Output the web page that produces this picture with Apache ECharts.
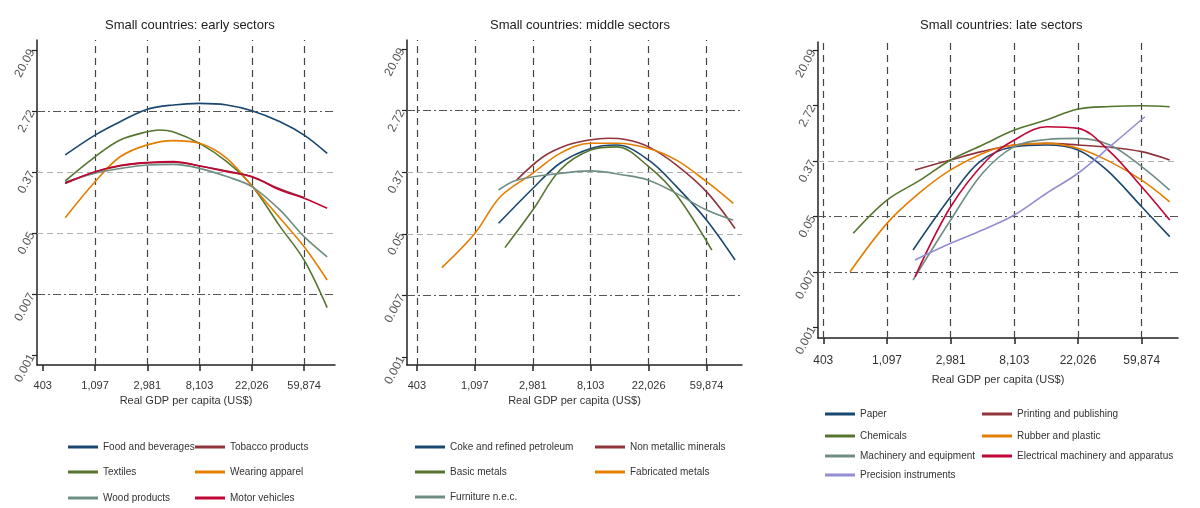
<!DOCTYPE html>
<html>
<head>
<meta charset="utf-8">
<title>Small countries: sector shares</title>
<script src="https://cdn.jsdelivr.net/npm/echarts@6.0.0/dist/echarts.min.js"></script>
<style>
  html, body { margin: 0; padding: 0; background: #fff; }
  #chart { width: 1200px; height: 508px; }
</style>
</head>
<body>
<div id="chart"></div>
<script>
// x = ln(real GDP per capita), y = ln(sector share)
const xTickVals = [6, 7, 8, 9, 10, 11];
const xTickLabels = ['403', '1,097', '2,981', '8,103', '22,026', '59,874'];
const yTickVals = [-7, -5, -3, -1, 1, 3];
const yTickLabels = ['0.001', '0.007', '0.05', '0.37', '2.72', '20.09'];

// early sectors
const foodBev = [[6.43,-0.44],[7.0,0.21],[7.48,0.65],[8.0,1.06],[8.5,1.2],[9.0,1.25],[9.52,1.2],[10.0,1.01],[10.54,0.65],[11.0,0.21],[11.44,-0.39]];
const tobacco = [[6.43,-1.38],[7.0,-1.0],[7.5,-0.79],[8.0,-0.7],[8.5,-0.68],[9.0,-0.8],[9.5,-0.96],[10.0,-1.16],[10.54,-1.56],[11.0,-1.84]];
const textiles = [[6.43,-1.29],[7.0,-0.5],[7.48,0.05],[8.0,0.32],[8.24,0.38],[8.49,0.32],[9.0,-0.06],[9.52,-0.66],[10.0,-1.45],[10.54,-2.79],[11.0,-3.89],[11.44,-5.45]];
const apparel = [[6.43,-2.5],[7.0,-1.32],[7.48,-0.5],[8.0,-0.11],[8.49,0.03],[9.0,-0.06],[9.52,-0.55],[10.0,-1.45],[10.54,-2.52],[11.0,-3.45],[11.44,-4.54]];
const woodProd = [[6.43,-1.33],[7.0,-1.04],[7.5,-0.88],[8.0,-0.77],[8.5,-0.75],[9.0,-0.88],[9.52,-1.15],[10.0,-1.48],[10.54,-2.25],[11.0,-3.12],[11.44,-3.78]];
const motorVeh = [[6.43,-1.36],[7.0,-0.99],[7.5,-0.78],[8.0,-0.69],[8.5,-0.66],[9.0,-0.8],[9.52,-0.99],[10.0,-1.15],[10.54,-1.59],[11.0,-1.86],[11.44,-2.19]];

// middle sectors
const cokePetrol = [[7.41,-2.66],[8.0,-1.53],[8.47,-0.71],[9.0,-0.23],[9.45,-0.12],[10.0,-0.61],[10.48,-1.47],[11.0,-2.56],[11.49,-3.85]];
const nonMetal = [[7.72,-1.26],[8.18,-0.5],[8.6,-0.12],[9.0,0.05],[9.3,0.1],[9.6,0.06],[10.0,-0.18],[10.48,-0.77],[11.0,-1.64],[11.49,-2.83]];
const basicMetals = [[7.52,-3.45],[8.0,-2.23],[8.47,-0.93],[9.0,-0.28],[9.45,-0.18],[10.0,-0.82],[10.48,-1.74],[11.09,-3.53]];
const fabMetals = [[6.43,-4.1],[7.0,-2.99],[7.44,-1.8],[8.0,-1.04],[8.47,-0.39],[9.0,-0.06],[9.45,-0.06],[10.0,-0.23],[10.48,-0.61],[11.0,-1.31],[11.46,-2.01]];
const furniture = [[7.41,-1.58],[7.72,-1.26],[8.47,-1.04],[9.0,-0.96],[9.56,-1.09],[10.0,-1.26],[10.48,-1.69],[11.0,-2.23],[11.46,-2.56]];

// late sectors
const paper = [[7.41,-4.21],[8.0,-2.29],[8.46,-1.02],[9.0,-0.48],[9.51,-0.42],[10.0,-0.6],[10.45,-1.32],[11.0,-2.65],[11.44,-3.73]];
const printing = [[7.44,-1.32],[8.0,-0.96],[8.5,-0.65],[9.0,-0.42],[9.51,-0.36],[10.0,-0.42],[10.5,-0.5],[11.0,-0.66],[11.44,-0.96]];
const chemicals = [[6.47,-3.61],[7.0,-2.41],[7.52,-1.69],[8.0,-0.96],[8.5,-0.42],[9.0,0.12],[9.5,0.48],[10.0,0.88],[10.5,0.97],[11.0,1.0],[11.44,0.96]];
const rubber = [[6.42,-5.0],[7.0,-3.25],[7.5,-2.17],[8.0,-1.32],[8.57,-0.66],[9.0,-0.42],[9.51,-0.36],[10.0,-0.54],[10.5,-1.02],[11.0,-1.69],[11.44,-2.47]];
const machinery = [[7.41,-5.3],[8.0,-3.13],[8.5,-1.44],[9.0,-0.48],[9.51,-0.22],[10.0,-0.18],[10.5,-0.42],[11.0,-1.2],[11.44,-2.05]];
const electrical = [[7.44,-5.18],[8.0,-2.65],[8.57,-0.96],[9.0,-0.24],[9.51,0.24],[10.0,0.18],[10.5,-0.66],[11.0,-1.93],[11.44,-3.13]];
const precision = [[7.44,-4.57],[8.0,-3.97],[8.5,-3.49],[9.0,-2.95],[9.5,-2.17],[10.0,-1.44],[10.5,-0.48],[11.05,0.6]];

const FONT = "'Liberation Sans Narrow', 'Liberation Sans', Arial, sans-serif";
// stata s2color palette
const navy = '#1a476f', maroon = '#90353b', green = '#55752f', orange = '#e37e00',
      teal = '#6e8e84', cranberry = '#c10534', lavender = '#938dd2';

const panels = [
    {
        title: 'Small countries: early sectors', titleLeft: 100,
        grid: { left: 37, top: 40, width: 298, height: 325 },
        x: [5.89, 11.59], y: [-7.33, 3.33], nameGap: 28, labelMargin: 15, labelSize: 11,
        vGrid: [7, 8, 9, 10, 11],
        hGrid: [[1, 'dark'], [-1, 'light'], [-3, 'light'], [-5, 'dark']],
        series: [
            ['Food and beverages', foodBev, navy],
            ['Tobacco products', tobacco, maroon],
            ['Textiles', textiles, green],
            ['Wearing apparel', apparel, orange],
            ['Wood products', woodProd, teal],
            ['Motor vehicles', motorVeh, cranberry]
        ],
        legendCols: [68, 195], legendRows: [448, 473, 499]
    },
    {
        title: 'Small countries: middle sectors', titleLeft: 485,
        grid: { left: 407, top: 40, width: 335, height: 325 },
        x: [5.83, 11.61], y: [-7.26, 3.29], nameGap: 28, labelMargin: 15, labelSize: 11,
        vGrid: [6, 7, 8, 9, 10, 11],
        hGrid: [[1, 'dark'], [-1, 'light'], [-3, 'light'], [-5, 'dark']],
        series: [
            ['Coke and refined petroleum', cokePetrol, navy],
            ['Non metallic minerals', nonMetal, maroon],
            ['Basic metals', basicMetals, green],
            ['Fabricated metals', fabMetals, orange],
            ['Furniture n.e.c.', furniture, teal]
        ],
        legendCols: [415, 595], legendRows: [448, 473, 498]
    },
    {
        title: 'Small countries: late sectors', titleLeft: 915,
        grid: { left: 818, top: 42, width: 360, height: 296 },
        x: [5.917, 11.57], y: [-7.39, 3.30], nameGap: 36, labelMargin: 17, labelSize: 12,
        vGrid: [6, 7, 8, 9, 10, 11],
        hGrid: [[-1, 'light'], [-3, 'dark'], [-5, 'dark']],
        series: [
            ['Paper', paper, navy],
            ['Printing and publishing', printing, maroon],
            ['Chemicals', chemicals, green],
            ['Rubber and plastic', rubber, orange],
            ['Machinery and equipment', machinery, teal],
            ['Electrical machinery and apparatus', electrical, cranberry],
            ['Precision instruments', precision, lavender]
        ],
        legendCols: [825, 982], legendRows: [415, 437, 457, 476]
    }
];

const pick = (vals, labels) => (v) => {
    const i = vals.findIndex(t => Math.abs(t - v) < 1e-6);
    return i < 0 ? '' : labels[i];
};

const lineStyles = {
    dark: { color: '#555', width: 1.2, type: [8, 3, 2, 3] },
    light: { color: '#b0b0b0', width: 1.2, type: [6, 4] }
};

let option = {
    backgroundColor: '#fff',
    animation: false,
    title: [], grid: [], xAxis: [], yAxis: [], legend: [], series: []
};

panels.forEach((p, i) => {
    option.title.push({
        text: p.title, left: p.titleLeft, top: 14,
        textStyle: { fontFamily: FONT, fontSize: 13, fontWeight: 'normal', color: '#222' }
    });
    option.grid.push(Object.assign({}, p.grid));
    option.xAxis.push({
        gridIndex: i, type: 'value', min: p.x[0], max: p.x[1],
        name: 'Real GDP per capita (US$)', nameLocation: 'middle', nameGap: p.nameGap,
        nameTextStyle: { fontFamily: FONT, fontSize: 11, color: '#333' },
        axisLine: { show: true, onZero: false, lineStyle: { color: '#222', width: 1.5 } },
        axisTick: { show: true, customValues: xTickVals, length: 6, lineStyle: { color: '#222', width: 1.5 } },
        axisLabel: { customValues: xTickVals, formatter: pick(xTickVals, xTickLabels),
            fontFamily: FONT, fontSize: p.labelSize, color: '#333', margin: p.labelMargin },
        splitLine: { show: false }
    });
    option.yAxis.push({
        gridIndex: i, type: 'value', min: p.y[0], max: p.y[1],
        axisLine: { show: true, onZero: false, lineStyle: { color: '#222', width: 1.5 } },
        axisTick: { show: true, customValues: yTickVals, length: 5, lineStyle: { color: '#222', width: 1.2 } },
        axisLabel: { customValues: yTickVals, formatter: pick(yTickVals, yTickLabels), rotate: 62,
            fontFamily: FONT, fontSize: 12, color: '#555', margin: 5 },
        splitLine: { show: false }
    });

    // gridlines
    const gridLines = p.vGrid.map(v => ({ xAxis: v, lineStyle: { color: '#444', width: 1.2, type: [7, 5] } }))
        .concat(p.hGrid.map(h => ({ yAxis: h[0], lineStyle: lineStyles[h[1]] })));

    p.series.forEach((s, k) => {
        const ser = {
            name: s[0], type: 'line', xAxisIndex: i, yAxisIndex: i,
            data: s[1], smooth: 0.35, showSymbol: false, symbol: 'none',
            color: s[2], lineStyle: { color: s[2], width: 1.6 },
            z: 3 + k
        };
        if (k === 0) {
            ser.markLine = { silent: true, symbol: ['none', 'none'], label: { show: false },
                z: 1, animation: false, data: gridLines };
        }
        option.series.push(ser);

        // one legend box per entry, two columns like stata
        option.legend.push({
            left: p.legendCols[k % 2], top: p.legendRows[Math.floor(k / 2)] - 6,
            padding: 0, itemWidth: 30, itemHeight: 3, icon: 'rect', selectedMode: false,
            data: [s[0]],
            textStyle: { fontFamily: FONT, fontSize: 10, color: '#333' }
        });
    });
});

const myChart = echarts.init(document.getElementById('chart'));
myChart.setOption(option);
</script>
</body>
</html>
